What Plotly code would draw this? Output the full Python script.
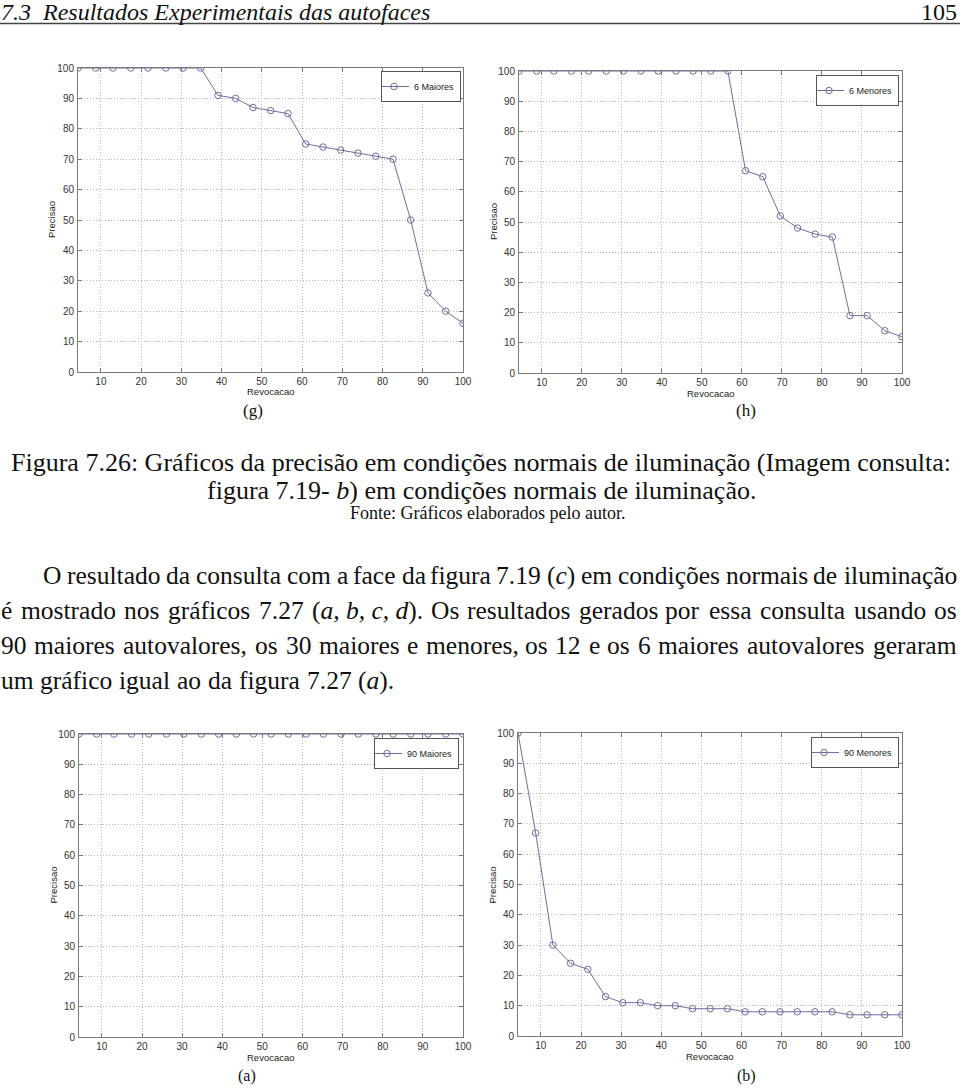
import re
import plotly.graph_objects as go

W, H = 960, 1089

# ---------------- data ----------------
recall = [4.3, 8.7, 13.0, 17.4, 21.7, 26.1, 30.4, 34.8, 39.1, 43.5, 47.8, 52.2,
          56.5, 60.9, 65.2, 69.6, 73.9, 78.3, 82.6, 87.0, 91.3, 95.7, 100.0]
prec_6_maiores = [100, 100, 100, 100, 100, 100, 100, 100, 91, 90, 87, 86,
                  85, 75, 74, 73, 72, 71, 70, 50, 26, 20, 16]
prec_6_menores = [100, 100, 100, 100, 100, 100, 100, 100, 100, 100, 100, 100,
                  100, 67, 65, 52, 48, 46, 45, 19, 19, 14, 12]
prec_90_maiores = [100, 100, 100, 100, 100, 100, 100, 100, 100, 100, 100, 100,
                   100, 100, 100, 100, 100, 100, 100, 100, 100, 100, 100]
prec_90_menores = [100, 67, 30, 24, 22, 13, 11, 11, 10, 10, 9, 9,
                   9, 8, 8, 8, 8, 8, 8, 7, 7, 7, 7]

series_names = ["6 Maiores", "6 Menores", "90 Maiores", "90 Menores"]
series_values = [prec_6_maiores, prec_6_menores, prec_90_maiores, prec_90_menores]
x_ticks = [10, 20, 30, 40, 50, 60, 70, 80, 90, 100]
y_ticks = [0, 10, 20, 30, 40, 50, 60, 70, 80, 90, 100]
x_title = "Revocacao"
y_title = "Precisao"
panel_labels = ["(g)", "(h)", "(a)", "(b)"]

header_text = "<i>7.3  Resultados Experimentais das autofaces</i>"
page_number = "105"
caption_lines = ["Figura 7.26: Gráficos da precisão em condições normais de iluminação (Imagem consulta:",
                 "figura 7.19- <i>b</i>) em condições normais de iluminação."]
source_text = "Fonte: Gráficos elaborados pelo autor."
paragraph_lines = [
    ["O", "resultado", "da", "consulta", "com", "a", "face", "da", "figura", "7.19", "(<i>c</i>)",
     "em", "condições", "normais", "de", "iluminação"],
    ["é", "mostrado", "nos", "gráficos", "7.27", "(<i>a, b, c, d</i>).", "Os", "resultados", "gerados",
     "por", "essa", "consulta", "usando", "os"],
    ["90", "maiores", "autovalores,", "os", "30", "maiores", "e", "menores,", "os", "12", "e", "os",
     "6", "maiores", "autovalores", "geraram"],
    ["um", "gráfico", "igual", "ao", "da", "figura", "7.27", "(<i>a</i>)."],
]

# ---------------- layout constants (pixels) ----------------
boxes = [(78, 463, 68, 372), (519, 902, 71, 373), (79, 463, 734, 1037), (518, 902, 733, 1036)]
legend_pos = [(461, 71), (899, 75), (459, 738), (899, 737)]
label_pos = [(253, 411), (746, 411), (247, 1076), (746, 1076)]

LINE_COL = "#6b6f9e"
AX_COL = "#7a7a7a"
SANS = "Liberation Sans"
SERIF = "Liberation Serif"

# approximate Times advance widths (per 1000 em) used to justify paragraph lines
TW = {' ': 250, '.': 250, ',': 250, '(': 333, ')': 333, ':': 278, '-': 333}
TW.update({c: 500 for c in "0123456789"})
TW.update(dict(a=444, b=500, c=444, d=500, e=444, f=333, g=500, h=500, i=278, j=278, k=500, l=278,
               m=778, n=500, o=500, p=500, q=500, r=333, s=389, t=278, u=500, v=500, w=722, x=500,
               y=500, z=444, O=722))
TW.update({'é': 444, 'á': 444, 'ç': 444, 'õ': 500, 'ã': 444})
WIDTH_FACTOR = 1.008


def text_width(s, size):
    plain = re.sub(r"<[^>]+>", "", s)
    return sum(TW.get(ch, 500) for ch in plain) * size / 1000.0 * WIDTH_FACTOR


def px(x):
    return x / W


def py(y):
    return 1 - y / H


fig = go.Figure()
layout = dict(width=W, height=H, autosize=False, margin=dict(l=0, r=0, t=0, b=0),
              paper_bgcolor="white", plot_bgcolor="white", showlegend=True,
              font=dict(family=SANS, size=10, color="#222"))

annos = []


def txt(x, y, s, size, anchor="center", family=SERIF, color="#111", angle=0, yanchor="middle"):
    annos.append(dict(x=px(x), y=py(y), xref="paper", yref="paper", text=s,
                      showarrow=False, xanchor=anchor, yanchor=yanchor, textangle=angle,
                      borderpad=0, font=dict(family=family, size=size, color=color)))


for i, (name, vals) in enumerate(zip(series_names, series_values)):
    k = "" if i == 0 else str(i + 1)
    lg = "legend" if i == 0 else "legend" + str(i + 1)
    fig.add_trace(go.Scatter(
        x=recall, y=vals, name=name, mode="lines+markers",
        xaxis="x" + k, yaxis="y" + k, legend=lg,
        line=dict(color=LINE_COL, width=1),
        marker=dict(symbol="circle-open", size=6.5, color=LINE_COL, line=dict(width=1)),
    ))
    l, r, t, b = boxes[i]
    common = dict(showline=True, linecolor=AX_COL, linewidth=1, mirror="ticks",
                  ticks="inside", ticklen=4, tickcolor=AX_COL, showgrid=True,
                  gridcolor="#b5b5b5", griddash="1px,2px", gridwidth=1, zeroline=False,
                  tickfont=dict(family=SANS, size=10, color="#333"), automargin=False)
    layout["xaxis" + k] = dict(domain=[px(l), px(r)], range=[4.3, 100], tickvals=x_ticks,
                               anchor="y" + k, ticklabelstandoff=0, **common)
    layout["yaxis" + k] = dict(domain=[py(b), py(t)], range=[0, 100], tickvals=y_ticks,
                               anchor="x" + k, ticklabelstandoff=1, **common)
    txt((l + r) / 2, b + 20, x_title, 9.5, family=SANS, color="#222")
    txt(l - 26, (t + b) / 2, y_title, 9.5, family=SANS, color="#222", angle=-90)
    lx, ly = legend_pos[i]
    layout[lg] = dict(x=px(lx), y=py(ly), xanchor="right", yanchor="top",
                      bgcolor="white", bordercolor="#555", borderwidth=1,
                      font=dict(family=SANS, size=9, color="#222"),
                      itemwidth=30, tracegroupgap=0, indentation=-8)
    lbx, lby = label_pos[i]
    txt(lbx, lby, panel_labels[i], 17 if i < 2 else 16)

# header
txt(0, -2, header_text, 24, "left", yanchor="top")
txt(958, -2, page_number, 24, "right", yanchor="top")

# caption
txt(481, 462, caption_lines[0], 26)
txt(481, 490, caption_lines[1], 26)
txt(487, 513, source_text, 18)

# paragraph (justified word by word: first half from the left, second half from the right)
PSIZE = 25.5
para_y = [575, 610, 645, 680]
para_x0 = [42, 0, 0, 0]
para_x1 = [958, 958, 958, None]
for words, yy, x0, x1 in zip(paragraph_lines, para_y, para_x0, para_x1):
    widths = [text_width(w, PSIZE) for w in words]
    n = len(words)
    if x1 is None:
        gap = text_width(" ", PSIZE)
        x = x0
        for j, w in enumerate(words):
            txt(x, yy, w, PSIZE, "left")
            x += widths[j] + gap
        continue
    gap = (x1 - x0 - sum(widths)) / (n - 1)
    half = n // 2
    x = x0
    for j in range(half):
        txt(x, yy, words[j], PSIZE, "left")
        x += widths[j] + gap
    xr = x1
    for j in range(n - 1, half - 1, -1):
        txt(xr, yy, words[j], PSIZE, "right")
        xr -= widths[j] + gap

layout["annotations"] = annos
layout["shapes"] = [dict(type="line", xref="paper", yref="paper", x0=0, x1=1,
                         y0=py(23.5), y1=py(23.5), line=dict(color="#444", width=1.5))]

fig.update_layout(**layout)

fig.write_html("out.html", config={"displayModeBar": False},
               post_script="document.body.style.margin='0px';document.body.style.padding='0px';")
